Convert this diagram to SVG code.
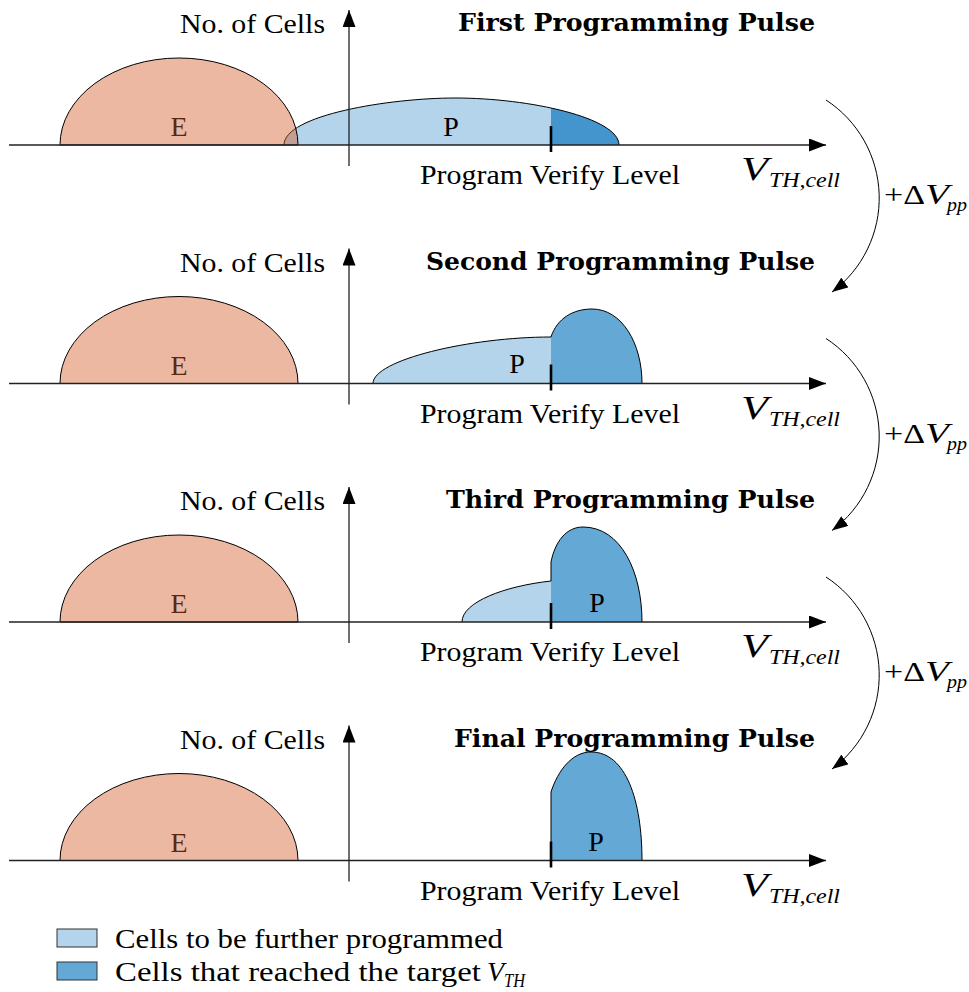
<svg xmlns="http://www.w3.org/2000/svg" width="969" height="992" viewBox="0 0 969 992">
<style>
.t{font-family:'Liberation Serif','DejaVu Serif',serif;font-size:28px;fill:#000}
.ti{font-family:'Liberation Serif','DejaVu Serif',serif;font-style:italic;fill:#000}
.title{font-family:'DejaVu Serif','Liberation Serif',serif;font-weight:bold;font-size:24px;fill:#000}
.lbl{font-family:'Liberation Serif','DejaVu Serif',serif;font-size:28px;fill:#000}
.efill{fill:#d65a25;fill-opacity:0.43;stroke:#000;stroke-width:1}
.light{fill:#b3d4ea;stroke:none}
.dark{fill:#64a9d6;stroke:none}
.dark1{fill:#4495cd;stroke:none}
.outline{fill:none;stroke:#000;stroke-width:1}
.axis{stroke:#222;stroke-width:1.3;fill:none}
.tick{stroke:#000;stroke-width:2.6}
.curve{stroke:#000;stroke-width:1;fill:none}
</style>
<defs>
<marker id="ah" markerUnits="userSpaceOnUse" markerWidth="18" markerHeight="13" refX="17" refY="6.5" orient="auto">
<polygon points="0,0 17,6.5 0,13" fill="#000"/>
</marker>
<marker id="ah2" markerUnits="userSpaceOnUse" markerWidth="17" markerHeight="12" refX="16" refY="6" orient="auto">
<polygon points="0,0 16,6 0,12" fill="#000"/>
</marker>
<clipPath id="right551"><rect x="551" y="0" width="200" height="200"/></clipPath>
</defs>

<g id="panel1">
<text class="t" x="325" y="33" text-anchor="end" textLength="145" lengthAdjust="spacingAndGlyphs">No. of Cells</text>
<text class="title" x="458" y="31" textLength="357" lengthAdjust="spacingAndGlyphs">First Programming Pulse</text>
<path class="light" d="M284,145 C284,115 390,98 455,98 C530,98 619,118 619,145 Z"/>
<path class="dark1" clip-path="url(#right551)" d="M284,145 C284,115 390,98 455,98 C530,98 619,118 619,145 Z"/>
<path class="outline" d="M284,145 C284,115 390,98 455,98 C530,98 619,118 619,145"/>
<text class="lbl" x="451" y="136" text-anchor="middle">P</text>
<text class="lbl" x="179" y="136" text-anchor="middle">E</text>
<path class="efill" d="M60,145 A119,87 0 0 1 298,145 Z"/>
<line class="axis" x1="9" y1="145" x2="826" y2="145" marker-end="url(#ah)"/>
<line class="axis" x1="349" y1="166" x2="349" y2="10" marker-end="url(#ah)"/>
<line class="tick" x1="551" y1="126" x2="551" y2="152"/>
<text class="t" x="420" y="184" textLength="260" lengthAdjust="spacingAndGlyphs">Program Verify Level</text>
<text class="ti" x="741" y="180" font-size="33" textLength="27" lengthAdjust="spacingAndGlyphs">V</text>
<text class="ti" x="769" y="187" font-size="21" textLength="71" lengthAdjust="spacingAndGlyphs">TH,cell</text>
</g>

<g id="panel2" transform="translate(0,238.5)">
<text class="t" x="325" y="33" text-anchor="end" textLength="145" lengthAdjust="spacingAndGlyphs">No. of Cells</text>
<text class="title" x="426" y="31" textLength="389" lengthAdjust="spacingAndGlyphs">Second Programming Pulse</text>
<path class="light" d="M373,145 C373,121.5 470,98.5 551,98.5 L551,145 Z"/>
<path class="dark" d="M551,145 L551,98.5 C557,80 573,70.5 592,70.5 C622,70.5 642,105 642,145 Z"/>
<path class="outline" d="M373,145 C373,121.5 470,98.5 551,98.5 C557,80 573,70.5 592,70.5 C622,70.5 642,105 642,145"/>
<text class="lbl" x="517" y="134" text-anchor="middle">P</text>
<text class="lbl" x="179" y="136" text-anchor="middle">E</text>
<path class="efill" d="M60,145 A119,87 0 0 1 298,145 Z"/>
<line class="axis" x1="9" y1="145" x2="826" y2="145" marker-end="url(#ah)"/>
<line class="axis" x1="349" y1="166" x2="349" y2="10" marker-end="url(#ah)"/>
<line class="tick" x1="551" y1="126" x2="551" y2="152"/>
<text class="t" x="420" y="184" textLength="260" lengthAdjust="spacingAndGlyphs">Program Verify Level</text>
<text class="ti" x="741" y="180" font-size="33" textLength="27" lengthAdjust="spacingAndGlyphs">V</text>
<text class="ti" x="769" y="187" font-size="21" textLength="71" lengthAdjust="spacingAndGlyphs">TH,cell</text>
</g>

<g id="panel3" transform="translate(0,477)">
<text class="t" x="325" y="33" text-anchor="end" textLength="145" lengthAdjust="spacingAndGlyphs">No. of Cells</text>
<text class="title" x="446" y="31" textLength="369" lengthAdjust="spacingAndGlyphs">Third Programming Pulse</text>
<path class="light" d="M462,145 C462,125 505,109 551,104 L551,145 Z"/>
<path class="dark" d="M551,145 L551,85 C555,65 566,50 583,50 C621,50 642,95 642,145 Z"/>
<path class="outline" d="M462,145 C462,125 505,109 551,104 L551,85 C555,65 566,50 583,50 C621,50 642,95 642,145"/>
<text class="lbl" x="597" y="135" text-anchor="middle">P</text>
<text class="lbl" x="179" y="136" text-anchor="middle">E</text>
<path class="efill" d="M60,145 A119,87 0 0 1 298,145 Z"/>
<line class="axis" x1="9" y1="145" x2="826" y2="145" marker-end="url(#ah)"/>
<line class="axis" x1="349" y1="166" x2="349" y2="10" marker-end="url(#ah)"/>
<line class="tick" x1="551" y1="126" x2="551" y2="152"/>
<text class="t" x="420" y="184" textLength="260" lengthAdjust="spacingAndGlyphs">Program Verify Level</text>
<text class="ti" x="741" y="180" font-size="33" textLength="27" lengthAdjust="spacingAndGlyphs">V</text>
<text class="ti" x="769" y="187" font-size="21" textLength="71" lengthAdjust="spacingAndGlyphs">TH,cell</text>
</g>

<g id="panel4" transform="translate(0,715.5)">
<text class="t" x="325" y="33" text-anchor="end" textLength="145" lengthAdjust="spacingAndGlyphs">No. of Cells</text>
<text class="title" x="454" y="31" textLength="361" lengthAdjust="spacingAndGlyphs">Final Programming Pulse</text>
<path class="dark" d="M551,145 L551,76.5 C558,55 572,36.5 591,36.5 C626,36.5 642,85 642,145 Z"/>
<path class="outline" d="M551,145 L551,76.5 C558,55 572,36.5 591,36.5 C626,36.5 642,85 642,145"/>
<text class="lbl" x="596" y="135" text-anchor="middle">P</text>
<text class="lbl" x="179" y="136" text-anchor="middle">E</text>
<path class="efill" d="M60,145 A119,87 0 0 1 298,145 Z"/>
<line class="axis" x1="9" y1="145" x2="826" y2="145" marker-end="url(#ah)"/>
<line class="axis" x1="349" y1="166" x2="349" y2="10" marker-end="url(#ah)"/>
<line class="tick" x1="551" y1="126" x2="551" y2="152"/>
<text class="t" x="420" y="184" textLength="260" lengthAdjust="spacingAndGlyphs">Program Verify Level</text>
<text class="ti" x="741" y="180" font-size="33" textLength="27" lengthAdjust="spacingAndGlyphs">V</text>
<text class="ti" x="769" y="187" font-size="21" textLength="71" lengthAdjust="spacingAndGlyphs">TH,cell</text>
</g>

<g id="connectors">
<path class="curve" d="M826,100 A117,117 0 0 1 832,292" marker-end="url(#ah2)"/>
<path class="curve" d="M826,338.5 A117,117 0 0 1 832,530.5" marker-end="url(#ah2)"/>
<path class="curve" d="M826,577 A117,117 0 0 1 832,769" marker-end="url(#ah2)"/>
</g>

<g id="labels-dvpp">
<text class="t" x="884" y="204" font-size="29" textLength="41" lengthAdjust="spacingAndGlyphs">+Δ</text>
<text class="ti" x="925" y="204" font-size="29" textLength="24" lengthAdjust="spacingAndGlyphs">V</text>
<text class="ti" x="947" y="211" font-size="19" textLength="20" lengthAdjust="spacingAndGlyphs">pp</text>
<text class="t" x="884" y="442.5" font-size="29" textLength="41" lengthAdjust="spacingAndGlyphs">+Δ</text>
<text class="ti" x="925" y="442.5" font-size="29" textLength="24" lengthAdjust="spacingAndGlyphs">V</text>
<text class="ti" x="947" y="449.5" font-size="19" textLength="20" lengthAdjust="spacingAndGlyphs">pp</text>
<text class="t" x="884" y="681" font-size="29" textLength="41" lengthAdjust="spacingAndGlyphs">+Δ</text>
<text class="ti" x="925" y="681" font-size="29" textLength="24" lengthAdjust="spacingAndGlyphs">V</text>
<text class="ti" x="947" y="688" font-size="19" textLength="20" lengthAdjust="spacingAndGlyphs">pp</text>
</g>

<g id="legend">
<rect x="57" y="929" width="40" height="18" fill="#b3d4ea" stroke="#333" stroke-width="1"/>
<text class="t" x="115" y="948" textLength="388" lengthAdjust="spacingAndGlyphs">Cells to be further programmed</text>
<rect x="57" y="962" width="40" height="18" fill="#64a9d6" stroke="#333" stroke-width="1"/>
<text class="t" x="115" y="981" textLength="366" lengthAdjust="spacingAndGlyphs">Cells that reached the target</text>
<text class="ti" x="487" y="981" font-size="28">V</text>
<text class="ti" x="504" y="987" font-size="19" textLength="21" lengthAdjust="spacingAndGlyphs">TH</text>
</g>
</svg>
